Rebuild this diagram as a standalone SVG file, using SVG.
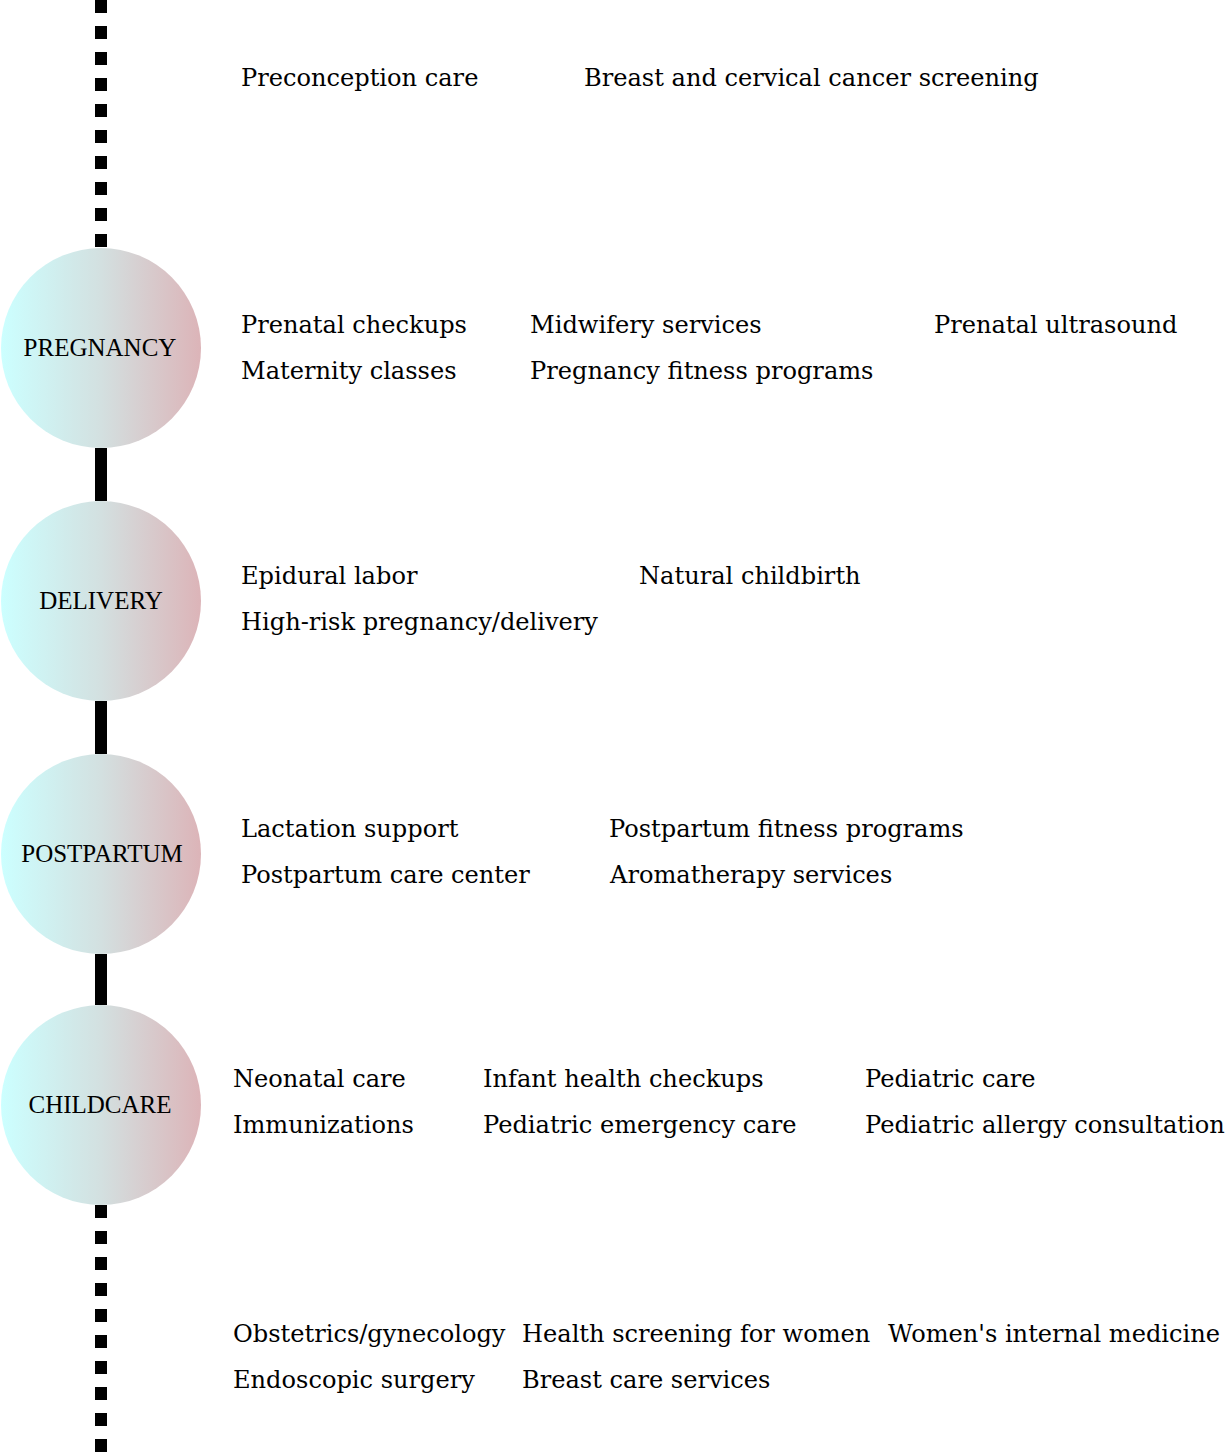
<svg xmlns="http://www.w3.org/2000/svg" width="1227" height="1452" viewBox="0 0 1227 1452">
<defs>
<linearGradient id="g" x1="0" y1="0" x2="1" y2="0">
<stop offset="0" stop-color="#ccffff"/>
<stop offset="0.5" stop-color="#d3e0e0"/>
<stop offset="1" stop-color="#dcb4b8"/>
</linearGradient>
<style>
.dash{stroke:#000;stroke-width:12;stroke-dasharray:13 13;fill:none}
.solid{stroke:#000;stroke-width:12;fill:none}
.node{fill:url(#g)}
.lbl{font-family:"Liberation Serif",serif;font-size:25px;fill:#000;text-anchor:middle}
.it{font-family:"DejaVu Serif",serif;font-size:24.1px;fill:#000}
</style>
</defs>
<rect width="1227" height="1452" fill="#fff"/>
<g id="connectors">
<line class="dash" x1="101" y1="0" x2="101" y2="248"/>
<line class="solid" x1="101" y1="448" x2="101" y2="501"/>
<line class="solid" x1="101" y1="701" x2="101" y2="754"/>
<line class="solid" x1="101" y1="954" x2="101" y2="1005"/>
<line class="dash" x1="101" y1="1205" x2="101" y2="1452"/>
</g>
<g id="top-items">
<text class="it" x="241" y="86">Preconception care</text>
<text class="it" x="584" y="86">Breast and cervical cancer screening</text>
</g>
<g id="pregnancy">
<circle class="node" cx="101" cy="348" r="100"/>
<text class="lbl" x="100" y="356">PREGNANCY</text>
<text class="it" x="241" y="333">Prenatal checkups</text>
<text class="it" x="530" y="333">Midwifery services</text>
<text class="it" x="934" y="333">Prenatal ultrasound</text>
<text class="it" x="241" y="379">Maternity classes</text>
<text class="it" x="530" y="379">Pregnancy fitness programs</text>
</g>
<g id="delivery">
<circle class="node" cx="101" cy="601" r="100"/>
<text class="lbl" x="101" y="609">DELIVERY</text>
<text class="it" x="241" y="584">Epidural labor</text>
<text class="it" x="639" y="584">Natural childbirth</text>
<text class="it" x="241" y="630">High-risk pregnancy/delivery</text>
</g>
<g id="postpartum">
<circle class="node" cx="101" cy="854" r="100"/>
<text class="lbl" x="102" y="862">POSTPARTUM</text>
<text class="it" x="241" y="837">Lactation support</text>
<text class="it" x="609" y="837">Postpartum fitness programs</text>
<text class="it" x="241" y="883">Postpartum care center</text>
<text class="it" x="610" y="883">Aromatherapy services</text>
</g>
<g id="childcare">
<circle class="node" cx="101" cy="1105" r="100"/>
<text class="lbl" x="100" y="1113">CHILDCARE</text>
<text class="it" x="233" y="1087">Neonatal care</text>
<text class="it" x="483" y="1087">Infant health checkups</text>
<text class="it" x="865" y="1087">Pediatric care</text>
<text class="it" x="233" y="1133">Immunizations</text>
<text class="it" x="483" y="1133">Pediatric emergency care</text>
<text class="it" x="865" y="1133">Pediatric allergy consultation</text>
</g>
<g id="bottom-items">
<text class="it" x="233" y="1342">Obstetrics/gynecology</text>
<text class="it" x="522" y="1342">Health screening for women</text>
<text class="it" x="888" y="1342">Women's internal medicine</text>
<text class="it" x="233" y="1388">Endoscopic surgery</text>
<text class="it" x="522" y="1388">Breast care services</text>
</g>
</svg>
